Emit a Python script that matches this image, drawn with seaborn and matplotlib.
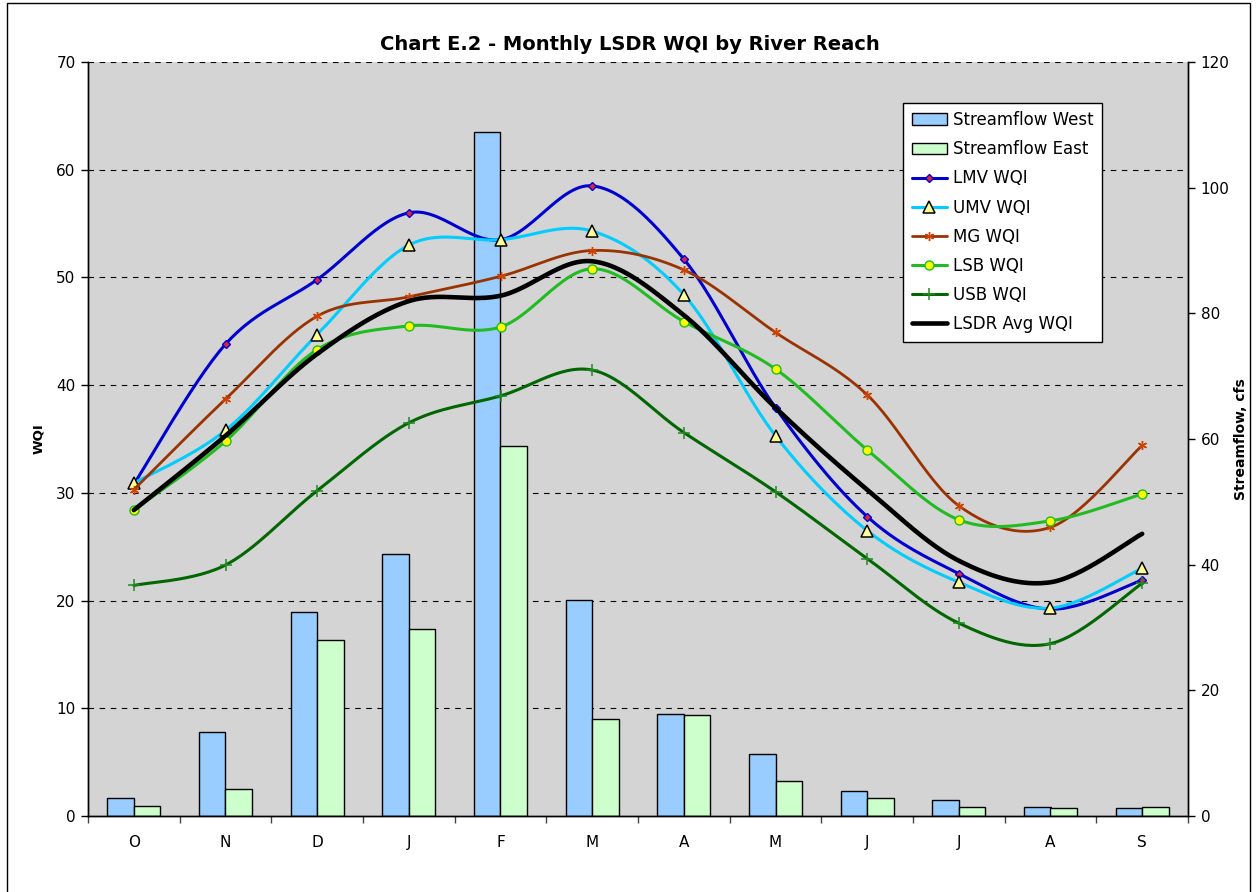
import numpy as np
import pandas as pd
import matplotlib
matplotlib.use('Agg')
import matplotlib.pyplot as plt
from matplotlib.lines import Line2D
from matplotlib.patches import Rectangle
import seaborn as sns

months = ['O', 'N', 'D', 'J', 'F', 'M', 'A', 'M', 'J', 'J', 'A', 'S']

# streamflow, cfs (right axis)
flow_west = [2.8, 13.4, 32.4, 41.7, 108.9, 34.4, 16.3, 9.8, 4.0, 2.5, 1.4, 1.2]
flow_east = [1.6, 4.3, 28.0, 29.8, 58.9, 15.4, 16.0, 5.5, 2.8, 1.4, 1.2, 1.5]

# WQI (left axis)
lmv = [30.8, 43.8, 49.8, 56.0, 53.5, 58.5, 51.7, 37.9, 27.8, 22.5, 19.2, 21.9]
umv = [30.9, 35.8, 44.7, 53.0, 53.5, 54.3, 48.4, 35.3, 26.5, 21.7, 19.3, 23.0]
mg = [30.3, 38.7, 46.4, 48.2, 50.1, 52.5, 50.7, 44.9, 39.1, 28.8, 26.8, 34.4]
lsb = [28.4, 34.8, 43.3, 45.5, 45.4, 50.8, 45.9, 41.5, 34.0, 27.5, 27.4, 29.9]
usb = [21.4, 23.3, 30.2, 36.5, 39.0, 41.4, 35.6, 30.1, 23.9, 17.9, 16.0, 21.6]
avg = [28.4, 35.3, 42.9, 47.8, 48.3, 51.5, 46.5, 37.9, 30.3, 23.7, 21.7, 26.2]


def smooth(y, n=30):
    # Excel-style smoothed line (cubic bezier through the points)
    x = np.arange(len(y), dtype=float)
    pts = np.column_stack([x, np.asarray(y, dtype=float)])
    p = np.vstack([pts[0], pts, pts[-1]])
    out = []
    t = np.linspace(0, 1, n)[:, None]
    for i in range(1, len(p) - 2):
        p0, p3 = p[i], p[i + 1]
        c1 = p0 + (p[i + 1] - p[i - 1]) / 6
        c2 = p3 - (p[i + 2] - p[i]) / 6
        seg = ((1 - t) ** 3) * p0 + 3 * ((1 - t) ** 2) * t * c1 + 3 * (1 - t) * t ** 2 * c2 + t ** 3 * p3
        out.append(seg if i == 1 else seg[1:])
    s = np.vstack(out)
    return s[:, 0], s[:, 1]


sns.set_style('white')
plt.rcParams['font.family'] = ['DejaVu Sans']
plt.rcParams.update({'text.color': 'black', 'axes.labelcolor': 'black',
                     'xtick.color': 'black', 'ytick.color': 'black'})

fig = plt.figure(figsize=(12.57, 8.92), dpi=100)
fig.patches.append(Rectangle((7 / 1257, -0.05), 1243 / 1257, 1.05 - 3 / 892,
                             transform=fig.transFigure, fill=False,
                             edgecolor='black', lw=1))

ax = fig.add_axes([88 / 1257, 76 / 892, 1100 / 1257, 754 / 892])
ax.set_facecolor('#d4d4d4')
ax2 = ax.twinx()
ax2.patch.set_visible(False)

# bars (streamflow) on the bottom axis, ticks on the right
bars = pd.DataFrame({
    'idx': list(range(12)) * 2,
    'flow': flow_west + flow_east,
    'serie': ['Streamflow West'] * 12 + ['Streamflow East'] * 12,
})
sns.barplot(data=bars, x='idx', y='flow', hue='serie', ax=ax,
            palette=['#99ccff', '#ccffcc'], width=0.58, gap=0,
            edgecolor='black', linewidth=1, saturation=1, zorder=2)
bar_h, bar_l = ax.get_legend_handles_labels()
ax.get_legend().remove()

ax.set_ylim(0, 120)
ax.set_xlim(-0.5, 11.5)
ax.yaxis.tick_right()
ax.yaxis.set_label_position('right')
ax.set_yticks(np.arange(0, 121, 20))
ax.set_ylabel('Streamflow, cfs', fontsize=10, fontweight='bold', labelpad=3)
ax.set_xlabel('')

# WQI gridlines
for g in np.arange(10, 71, 10):
    ax.axhline(g * 120 / 70, color='black', lw=0.8, ls=(0, (5, 5)), zorder=1)

ax.set_xticks(np.arange(-0.5, 12, 1))
ax.set_xticklabels([])
ax.set_xticks(np.arange(12), minor=True)
ax.set_xticklabels(months, minor=True)
ax.tick_params(axis='x', which='major', direction='out', length=5, width=1, color='#444444', bottom=True)
ax.tick_params(axis='x', which='minor', length=0, pad=14, labelsize=11)
ax.tick_params(axis='y', direction='out', length=5, width=1, right=True, left=False,
               labelright=True, labelleft=False, labelsize=11, pad=4)

# WQI lines on top axis, ticks on the left
ax2.yaxis.tick_left()
ax2.yaxis.set_label_position('left')
ax2.set_ylim(0, 70)
ax2.set_xlim(-0.5, 11.5)
ax2.set_yticks(np.arange(0, 71, 10))
ax2.tick_params(axis='y', direction='out', length=5, width=1, left=True, right=False,
                labelleft=True, labelright=False, labelsize=11, pad=4)
ax2.set_ylabel('WQI', fontsize=9.5, fontweight='bold', labelpad=8)

styles = [
    ('LMV WQI', lmv, '#0000cc', 2.2, dict(marker='D', ms=4.5, mfc='#dd2244', mec='#0000cc', mew=1)),
    ('UMV WQI', umv, '#00ccff', 2.2, dict(marker='^', ms=8, mfc='#ffff99', mec='black', mew=1.1)),
    ('MG WQI', mg, '#993300', 2.0, dict(marker=(6, 2, 0), ms=6.5, mfc='#993300', mec='#cc4400', mew=1)),
    ('LSB WQI', lsb, '#22bb22', 2.2, dict(marker='o', ms=6.5, mfc='#ffff00', mec='#22bb22', mew=1)),
    ('USB WQI', usb, '#006600', 2.2, dict(marker='+', ms=8, mfc='#228822', mec='#228822', mew=1.1)),
    ('LSDR Avg WQI', avg, 'black', 3.3, dict(marker=None)),
]

handles = list(bar_h)
labels = list(bar_l)
x = np.arange(12)
for name, vals, col, lw, mk in styles:
    xs, ys = smooth(vals)
    sns.lineplot(x=xs, y=ys, ax=ax2, color=col, lw=lw, sort=False,
                 estimator=None, legend=False)
    if mk['marker'] is not None:
        ax2.plot(x, vals, ls='none', **mk)
    handles.append(Line2D([], [], color=col, lw=lw, **mk))
    labels.append(name)

ax2.set_xlabel('')
for a in (ax, ax2):
    a.spines['top'].set_visible(False)
    for s in ('left', 'right', 'bottom'):
        a.spines[s].set_color('black')
        a.spines[s].set_linewidth(1)

leg = ax2.legend(handles, labels, loc='upper right', bbox_to_anchor=(0.922, 0.946),
                 fontsize=12, frameon=True, fancybox=False, framealpha=1,
                 edgecolor='black', labelspacing=0.67, handlelength=2.1,
                 handletextpad=0.4, borderpad=0.5, borderaxespad=0)
leg.get_frame().set_linewidth(1)

fig.text(630 / 1257, 1 - 44 / 892, 'Chart E.2 - Monthly LSDR WQI by River Reach',
         ha='center', va='center', fontsize=14, fontweight='bold')

fig.savefig('out.png', dpi=100)
